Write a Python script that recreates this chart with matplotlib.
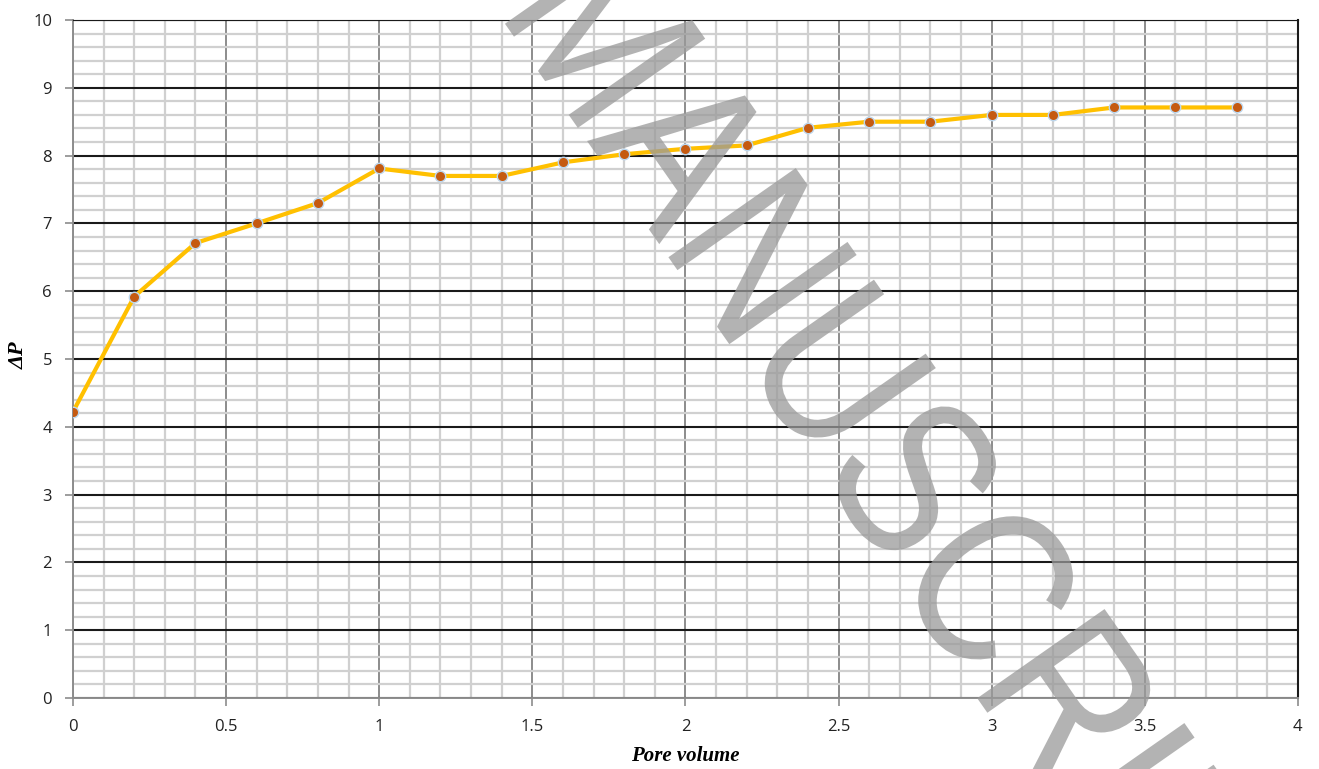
import numpy as np
import matplotlib
matplotlib.use('Agg')
import matplotlib.pyplot as plt
from matplotlib.textpath import TextPath
from matplotlib.patches import PathPatch
from matplotlib.font_manager import FontProperties
from matplotlib.transforms import Affine2D

# data
pore_volume = [0.0, 0.2, 0.4, 0.6, 0.8, 1.0, 1.2, 1.4, 1.6, 1.8,
               2.0, 2.2, 2.4, 2.6, 2.8, 3.0, 3.2, 3.4, 3.6, 3.8]
delta_p = [4.22, 5.92, 6.71, 7.0, 7.3, 7.81, 7.7, 7.7, 7.9, 8.02,
           8.1, 8.15, 8.41, 8.5, 8.5, 8.6, 8.6, 8.71, 8.71, 8.71]
x_ticks = [0, 0.5, 1, 1.5, 2, 2.5, 3, 3.5, 4]
x_tick_labels = ['0', '0.5', '1', '1.5', '2', '2.5', '3', '3.5', '4']
y_ticks = list(range(0, 11))
watermark = 'MANUSCRIPT'

fig = plt.figure(figsize=(13.19, 7.69), dpi=100)
ax = fig.add_axes([0.0553, 0.0923, 0.9287, 0.8817])

ax.set_xlim(0, 4)
ax.set_ylim(0, 10)
ax.set_xticks(x_ticks)
ax.set_xticklabels(x_tick_labels)
ax.set_yticks(y_ticks)
ax.set_xticks(np.arange(0, 4.01, 0.1), minor=True)
ax.set_yticks(np.arange(0, 10.01, 0.2), minor=True)

# grid: light minor, gray major x, black major y
ax.grid(which='minor', axis='both', color='#d0d0d0', linewidth=1.6)
ax.grid(which='major', axis='x', color='#8c8c8c', linewidth=1.4)
ax.grid(which='major', axis='y', color='#1a1a1a', linewidth=1.5)
ax.set_axisbelow(True)

ax.tick_params(which='minor', length=0)
ax.tick_params(which='major', length=6, color='#8c8c8c', width=1.2,
               labelsize=12, labelcolor='#222222', pad=9)
for lab in ax.get_xticklabels() + ax.get_yticklabels():
    lab.set_family('Open Sans')

for side in ['left', 'bottom']:
    ax.spines[side].set_color('#8c8c8c')
    ax.spines[side].set_linewidth(1.4)
ax.spines['top'].set_color('#1a1a1a')
ax.spines['right'].set_color('#1a1a1a')
ax.spines['right'].set_linewidth(1.5)

ax.plot(pore_volume, delta_p, color='#FFC000', linewidth=3, marker='o',
        markersize=7.5, markerfacecolor='#C55A11', markeredgecolor='#BDD7EE',
        markeredgewidth=1.0, zorder=3)

ax.set_xlabel('Pore volume', family='Liberation Serif', fontweight='bold',
              fontstyle='italic', fontsize=15, labelpad=8)
ax.set_ylabel('ΔP', family='Liberation Serif', fontweight='bold',
              fontstyle='italic', fontsize=16, va='center')
ax.yaxis.set_label_coords(-0.044, 0.506)

# watermark drawn in figure pixels
tp = TextPath((0, 0), watermark, size=1, prop=FontProperties(family='Liberation Sans'))
wm_tr = Affine2D().scale(190, 226).rotate_deg(-55).translate(496, 758)
wm = PathPatch(tp, facecolor='#9a9a9a', edgecolor='none', alpha=0.75,
               transform=wm_tr, zorder=10)
fig.patches.append(wm)

fig.savefig('out.png', dpi=100)
